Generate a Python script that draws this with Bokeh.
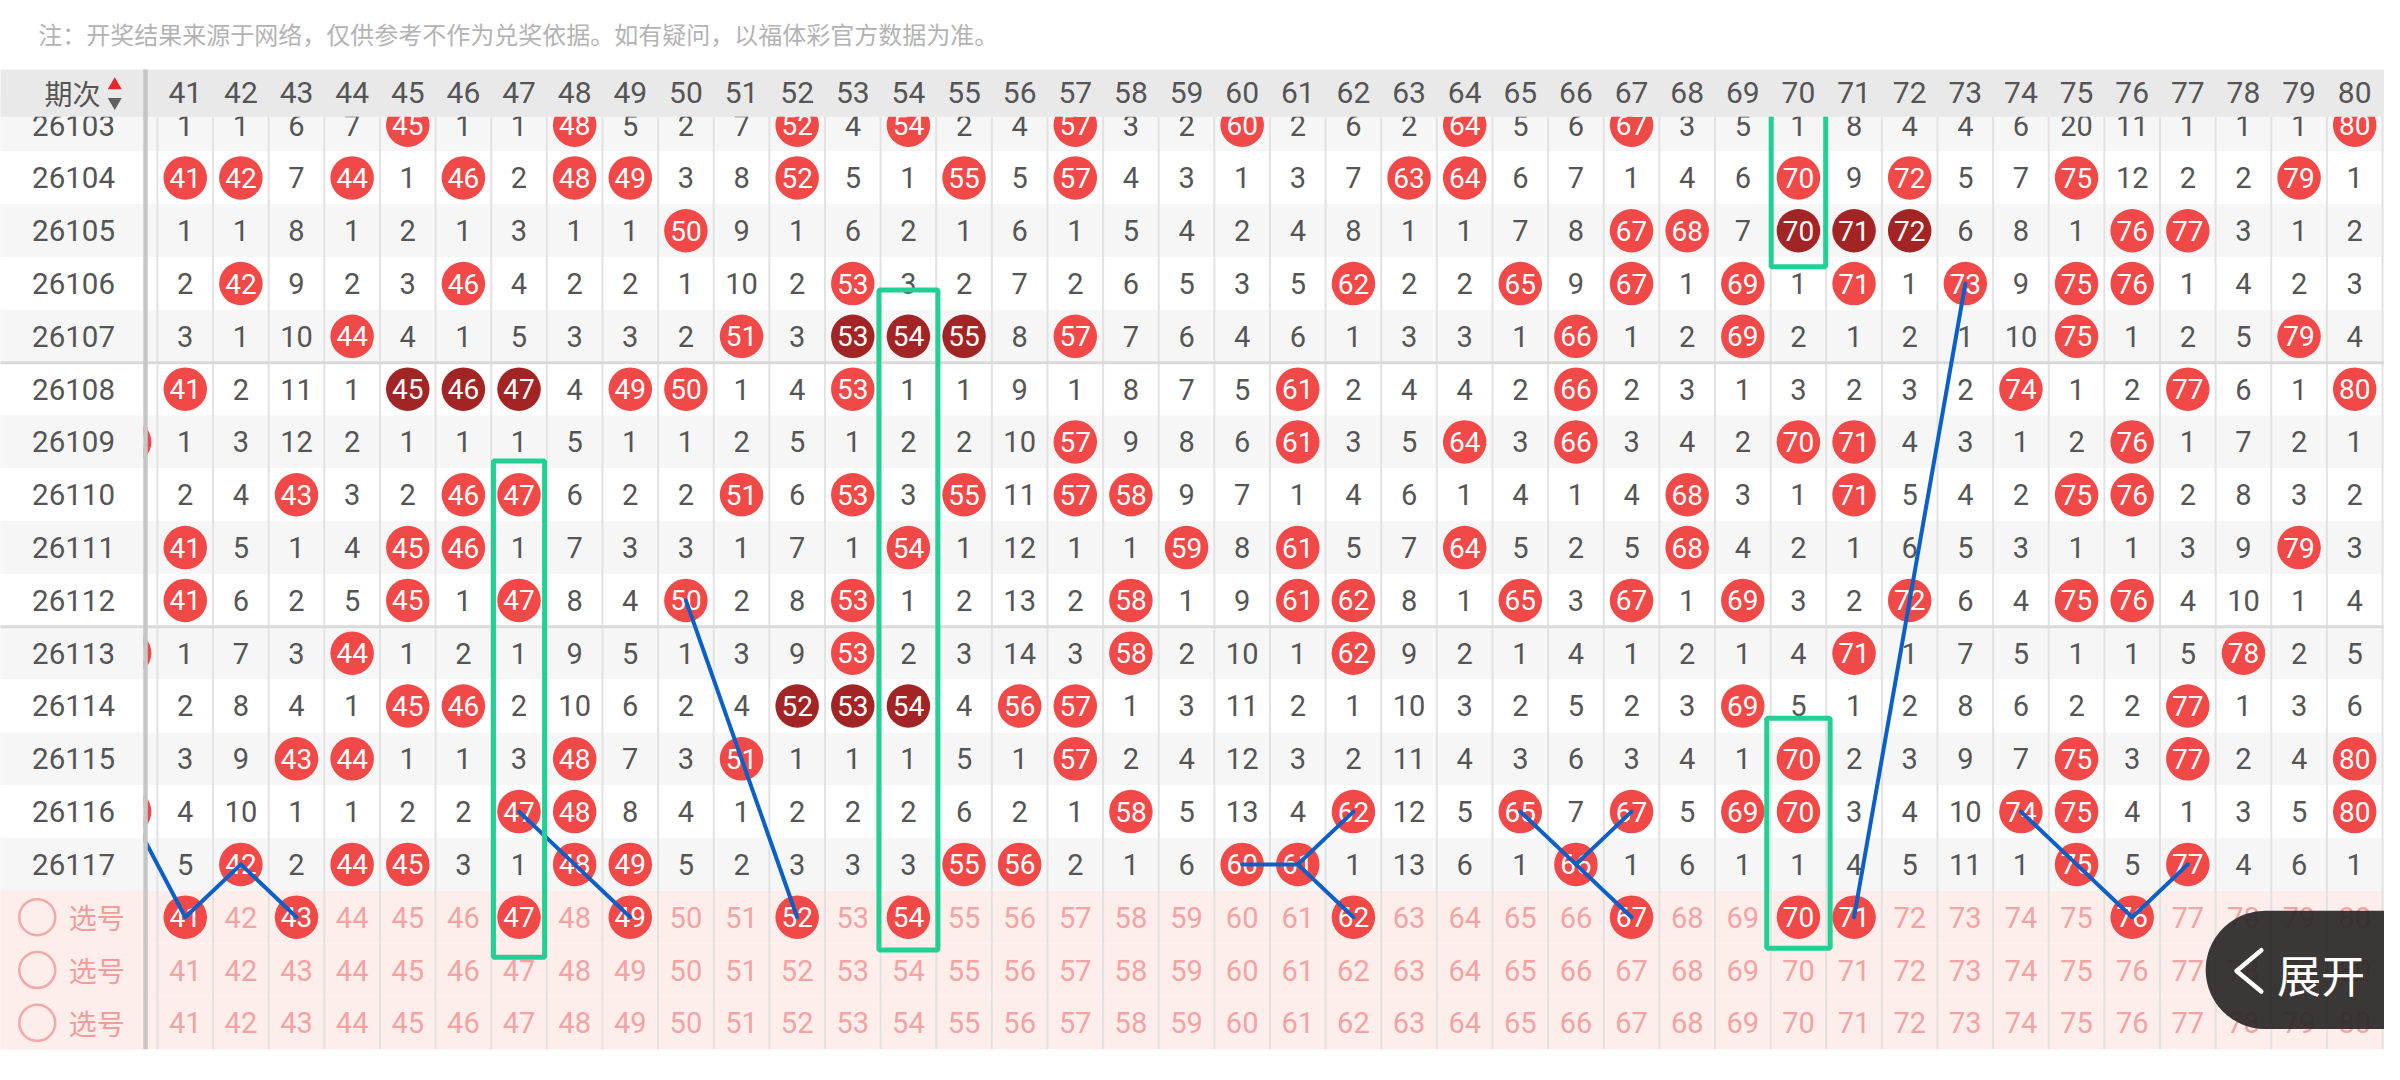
import numpy as np
from bokeh.plotting import figure
from bokeh.models import Range1d
from bokeh.core.properties import value
from bokeh.embed import file_html
from bokeh.resources import INLINE

# ---------------- data ----------------
note = "注：开奖结果来源于网络，仅供参考不作为兑奖依据。如有疑问，以福体彩官方数据为准。"
header_label = "期次"
select_label = "选号"
expand_label = "展开"

numbers = list(range(41, 81))
periods = ["26103", "26104", "26105", "26106", "26107", "26108", "26109", "26110",
           "26111", "26112", "26113", "26114", "26115", "26116", "26117"]

# value == column number -> drawn number (ball); otherwise missed-count
r26103 = [1, 1, 6, 7, 45, 1, 1, 48, 5, 2, 7, 52, 4, 54, 2, 4, 57, 3, 2, 60,
          2, 6, 2, 64, 5, 6, 67, 3, 5, 1, 8, 4, 4, 6, 20, 11, 1, 1, 1, 80]
r26104 = [41, 42, 7, 44, 1, 46, 2, 48, 49, 3, 8, 52, 5, 1, 55, 5, 57, 4, 3, 1,
          3, 7, 63, 64, 6, 7, 1, 4, 6, 70, 9, 72, 5, 7, 75, 12, 2, 2, 79, 1]
r26105 = [1, 1, 8, 1, 2, 1, 3, 1, 1, 50, 9, 1, 6, 2, 1, 6, 1, 5, 4, 2,
          4, 8, 1, 1, 7, 8, 67, 68, 7, 70, 71, 72, 6, 8, 1, 76, 77, 3, 1, 2]
r26106 = [2, 42, 9, 2, 3, 46, 4, 2, 2, 1, 10, 2, 53, 3, 2, 7, 2, 6, 5, 3,
          5, 62, 2, 2, 65, 9, 67, 1, 69, 1, 71, 1, 73, 9, 75, 76, 1, 4, 2, 3]
r26107 = [3, 1, 10, 44, 4, 1, 5, 3, 3, 2, 51, 3, 53, 54, 55, 8, 57, 7, 6, 4,
          6, 1, 3, 3, 1, 66, 1, 2, 69, 2, 1, 2, 1, 10, 75, 1, 2, 5, 79, 4]
r26108 = [41, 2, 11, 1, 45, 46, 47, 4, 49, 50, 1, 4, 53, 1, 1, 9, 1, 8, 7, 5,
          61, 2, 4, 4, 2, 66, 2, 3, 1, 3, 2, 3, 2, 74, 1, 2, 77, 6, 1, 80]
r26109 = [1, 3, 12, 2, 1, 1, 1, 5, 1, 1, 2, 5, 1, 2, 2, 10, 57, 9, 8, 6,
          61, 3, 5, 64, 3, 66, 3, 4, 2, 70, 71, 4, 3, 1, 2, 76, 1, 7, 2, 1]
r26110 = [2, 4, 43, 3, 2, 46, 47, 6, 2, 2, 51, 6, 53, 3, 55, 11, 57, 58, 9, 7,
          1, 4, 6, 1, 4, 1, 4, 68, 3, 1, 71, 5, 4, 2, 75, 76, 2, 8, 3, 2]
r26111 = [41, 5, 1, 4, 45, 46, 1, 7, 3, 3, 1, 7, 1, 54, 1, 12, 1, 1, 59, 8,
          61, 5, 7, 64, 5, 2, 5, 68, 4, 2, 1, 6, 5, 3, 1, 1, 3, 9, 79, 3]
r26112 = [41, 6, 2, 5, 45, 1, 47, 8, 4, 50, 2, 8, 53, 1, 2, 13, 2, 58, 1, 9,
          61, 62, 8, 1, 65, 3, 67, 1, 69, 3, 2, 72, 6, 4, 75, 76, 4, 10, 1, 4]
r26113 = [1, 7, 3, 44, 1, 2, 1, 9, 5, 1, 3, 9, 53, 2, 3, 14, 3, 58, 2, 10,
          1, 62, 9, 2, 1, 4, 1, 2, 1, 4, 71, 1, 7, 5, 1, 1, 5, 78, 2, 5]
r26114 = [2, 8, 4, 1, 45, 46, 2, 10, 6, 2, 4, 52, 53, 54, 4, 56, 57, 1, 3, 11,
          2, 1, 10, 3, 2, 5, 2, 3, 69, 5, 1, 2, 8, 6, 2, 2, 77, 1, 3, 6]
r26115 = [3, 9, 43, 44, 1, 1, 3, 48, 7, 3, 51, 1, 1, 1, 5, 1, 57, 2, 4, 12,
          3, 2, 11, 4, 3, 6, 3, 4, 1, 70, 2, 3, 9, 7, 75, 3, 77, 2, 4, 80]
r26116 = [4, 10, 1, 1, 2, 2, 47, 48, 8, 4, 1, 2, 2, 2, 6, 2, 1, 58, 5, 13,
          4, 62, 12, 5, 65, 7, 67, 5, 69, 70, 3, 4, 10, 74, 75, 4, 1, 3, 5, 80]
r26117 = [5, 42, 2, 44, 45, 3, 1, 48, 49, 5, 2, 3, 3, 3, 55, 56, 2, 1, 6, 60,
          61, 1, 13, 6, 1, 66, 1, 6, 1, 1, 4, 5, 11, 1, 75, 5, 77, 4, 6, 1]
rows = [r26103, r26104, r26105, r26106, r26107, r26108, r26109, r26110,
        r26111, r26112, r26113, r26114, r26115, r26116, r26117]

col40_hits = ["26109", "26113", "26116"]          # partly hidden column 40
sel_keys = ["sel1", "sel2", "sel3"]
sel_picks = [41, 43, 47, 49, 52, 54, 62, 67, 70, 71, 76]

trend_lines = [
    [(40, "26116"), (41, "sel1"), (42, "26117"), (43, "sel1")],
    [(47, "26116"), (48, "26117"), (49, "sel1")],
    [(50, "26112"), (51, "26115"), (52, "sel1")],
    [(60, "26117"), (61, "26117"), (62, "26116")],
    [(61, "26117"), (62, "sel1")],
    [(65, "26116"), (66, "26117"), (67, "sel1")],
    [(66, "26117"), (67, "26116")],
    [(73, "26106"), (72, "26112"), (71, "sel1")],
    [(74, "26116"), (75, "26117"), (76, "sel1"), (77, "26117")],
]
# (column, first row, last row)
boxes = [(47, "26110", "sel1"), (54, "26107", "sel1"),
         (70, "26103", "26105"), (70, "26115", "sel1")]
box_pads = [(0.46, 0.64, 0.76), (0.53, 0.88, 0.62),
            (0.49, 0.9, 0.68), (0.57, 0.77, 0.59)]

# ---------------- layout ----------------
COLX, COLW = 186.0, 56.0       # reference px of column 41 centre, column width
ROWY, ROWH = 126.5, 53.6       # reference px of first row centre, row height
REFW, REFH = 2400, 1080


def sx2x(sx):
    return 41 + (sx - COLX) / COLW


def sy2y(sy):
    return (sy - ROWY) / ROWH


X0, X1 = sx2x(0), sx2x(REFW)
Y0, Y1 = sy2y(0), sy2y(REFH)

row_keys = periods + sel_keys
ridx = {k: i for i, k in enumerate(row_keys)}

RED, DARK, PINK_TXT, GRAY_TXT = "#f14848", "#a32424", "#f3a3a3", "#555555"
NUMF = value("Roboto")
CJKF = value("Noto Sans CJK SC")

p = figure(width=2384, height=1064, x_range=Range1d(X0, X1), y_range=Range1d(Y1, Y0),
           output_backend="svg", toolbar_location=None,
           x_axis_type=None, y_axis_type=None, min_border=0)
p.outline_line_color = None
p.grid.visible = False
p.background_fill_color = "white"
p.border_fill_color = "white"

stripe = ["#f6f6f6" if i % 2 == 0 else "#ffffff" for i in range(len(periods))] + ["#fdeeeb"] * 3
tops = [i - 0.5 for i in range(len(row_keys))]
bots = [i + 0.5 for i in range(len(row_keys))]
p.quad(left=X0 - 1, right=X1 + 1, top=tops, bottom=bots, fill_color=stripe, line_color=None)

# column lines
vx = [c + 0.5 for c in range(40, 81)]
p.segment(x0=vx, y0=sy2y(118), x1=vx, y1=len(row_keys) - 0.5, line_color="#e2e2e2", line_width=2)
# group separators every 5 periods
sep = [4.5, 9.5]
p.segment(x0=X0 - 1, y0=sep, x1=X1 + 1, y1=sep, line_color="#dadada", line_width=3)

# cells
mx, my, mt = [], [], []
bx, by, bt, bc = [], [], [], []
for i, vals in enumerate(rows):
    hits = [v == n for v, n in zip(vals, numbers)]
    dark = [False] * len(numbers)
    j = 0
    while j < len(numbers):
        if hits[j]:
            k = j
            while k < len(numbers) and hits[k]:
                k += 1
            if k - j >= 3:
                for q in range(j, k):
                    dark[q] = True
            j = k
        else:
            j += 1
    for j, (v, n) in enumerate(zip(vals, numbers)):
        if hits[j]:
            bx.append(n); by.append(i); bt.append(str(n)); bc.append(DARK if dark[j] else RED)
        else:
            mx.append(n); my.append(i); mt.append(str(v))

for k in col40_hits:
    bx.append(40); by.append(ridx[k]); bt.append("40"); bc.append(RED)

px, py, pt = [], [], []
for s, key in enumerate(sel_keys):
    for n in numbers:
        if s == 0 and n in sel_picks:
            bx.append(n); by.append(ridx[key]); bt.append(str(n)); bc.append(RED)
        else:
            px.append(n); py.append(ridx[key]); pt.append(str(n))

p.text(x=mx, y=my, text=mt, text_font=NUMF, text_font_size="29px", text_color=GRAY_TXT,
       text_align="center", text_baseline="middle")
p.text(x=px, y=py, text=pt, text_font=NUMF, text_font_size="29px", text_color=PINK_TXT,
       text_align="center", text_baseline="middle")
p.scatter(x=bx, y=by, marker="circle", size=43.5, fill_color=bc, line_color=None)
p.text(x=bx, y=by, text=bt, text_font=NUMF, text_font_size="28px", text_color="white",
       text_align="center", text_baseline="middle")

# trend lines
for pts in trend_lines:
    p.line(x=[n for n, _ in pts], y=[ridx[k] for _, k in pts], line_color="#0b5fc8",
           line_width=4, line_join="round", line_cap="round")

# highlight boxes
for (c, a, b), (hw, pt_, pb_) in zip(boxes, box_pads):
    p.quad(left=c - hw, right=c + hw, top=ridx[a] - pt_, bottom=ridx[b] + pb_,
           fill_color=None, line_color="#22cf95", line_width=5)

# fixed left column
PANEL_R = sx2x(144)
p.quad(left=X0 - 1, right=PANEL_R, top=tops, bottom=bots, fill_color=stripe, line_color=None)
p.segment(x0=X0 - 1, y0=sep, x1=PANEL_R, y1=sep, line_color="#dadada", line_width=3)
p.text(x=sx2x(73.5), y=list(range(len(periods))), text=periods, text_font=NUMF,
       text_font_size="29.5px", text_color=GRAY_TXT, text_align="center", text_baseline="middle")
sel_y = [ridx[k] for k in sel_keys]
p.scatter(x=sx2x(37), y=sel_y, marker="circle", size=36, fill_color=None,
          line_color="#f4a8a8", line_width=2.5)
p.text(x=sx2x(97), y=sel_y, text=[select_label] * 3, text_font=CJKF, text_font_size="28px",
       text_color="#f29c9c", text_align="center", text_baseline="middle")

# header
p.quad(left=X0 - 1, right=X1 + 1, top=sy2y(70), bottom=sy2y(118), fill_color="#e9e9e9", line_color=None)
p.text(x=numbers, y=sy2y(93), text=[str(n) for n in numbers], text_font=NUMF,
       text_font_size="30px", text_color=GRAY_TXT, text_align="center", text_baseline="middle")
p.text(x=sx2x(72.5), y=sy2y(94), text=[header_label], text_font=CJKF, text_font_size="28px",
       text_color=GRAY_TXT, text_align="center", text_baseline="middle")
p.scatter(x=sx2x(115), y=sy2y(86), marker="triangle", size=14, fill_color="#e8262b", line_color=None)
p.scatter(x=sx2x(115), y=sy2y(103), marker="inverted_triangle", size=14, fill_color="#606060", line_color=None)
p.segment(x0=sx2x(146), y0=sy2y(70), x1=sx2x(146), y1=len(row_keys) - 0.5,
          line_color="#c6c6c6", line_width=4.5)

# note
p.text(x=sx2x(38), y=sy2y(33), text=[note], text_font=CJKF, text_font_size="24px",
       text_color="#b3b3b3", text_align="left", text_baseline="middle")

# expand pill
cx, cy, R = 2280.0, 984.0, 60.0
th = np.linspace(np.pi / 2, 3 * np.pi / 2, 60)
pill_x = [sx2x(cx + R * np.cos(t)) for t in th] + [X1 + 1, X1 + 1]
pill_y = [sy2y(cy + R * np.sin(t)) for t in th] + [sy2y(cy - R), sy2y(cy + R)]
p.patch(x=pill_x, y=pill_y, fill_color="#2b2928", fill_alpha=0.93, line_color=None)
p.line(x=[sx2x(2276), sx2x(2251), sx2x(2276)], y=[sy2y(964), sy2y(985), sy2y(1006)],
       line_color="white", line_width=4.5, line_cap="round", line_join="round")
p.text(x=sx2x(2336), y=sy2y(988), text=[expand_label], text_font=CJKF, text_font_size="44px",
       text_color="white", text_align="center", text_baseline="middle")

open("out.html", "w").write(file_html(p, INLINE))
